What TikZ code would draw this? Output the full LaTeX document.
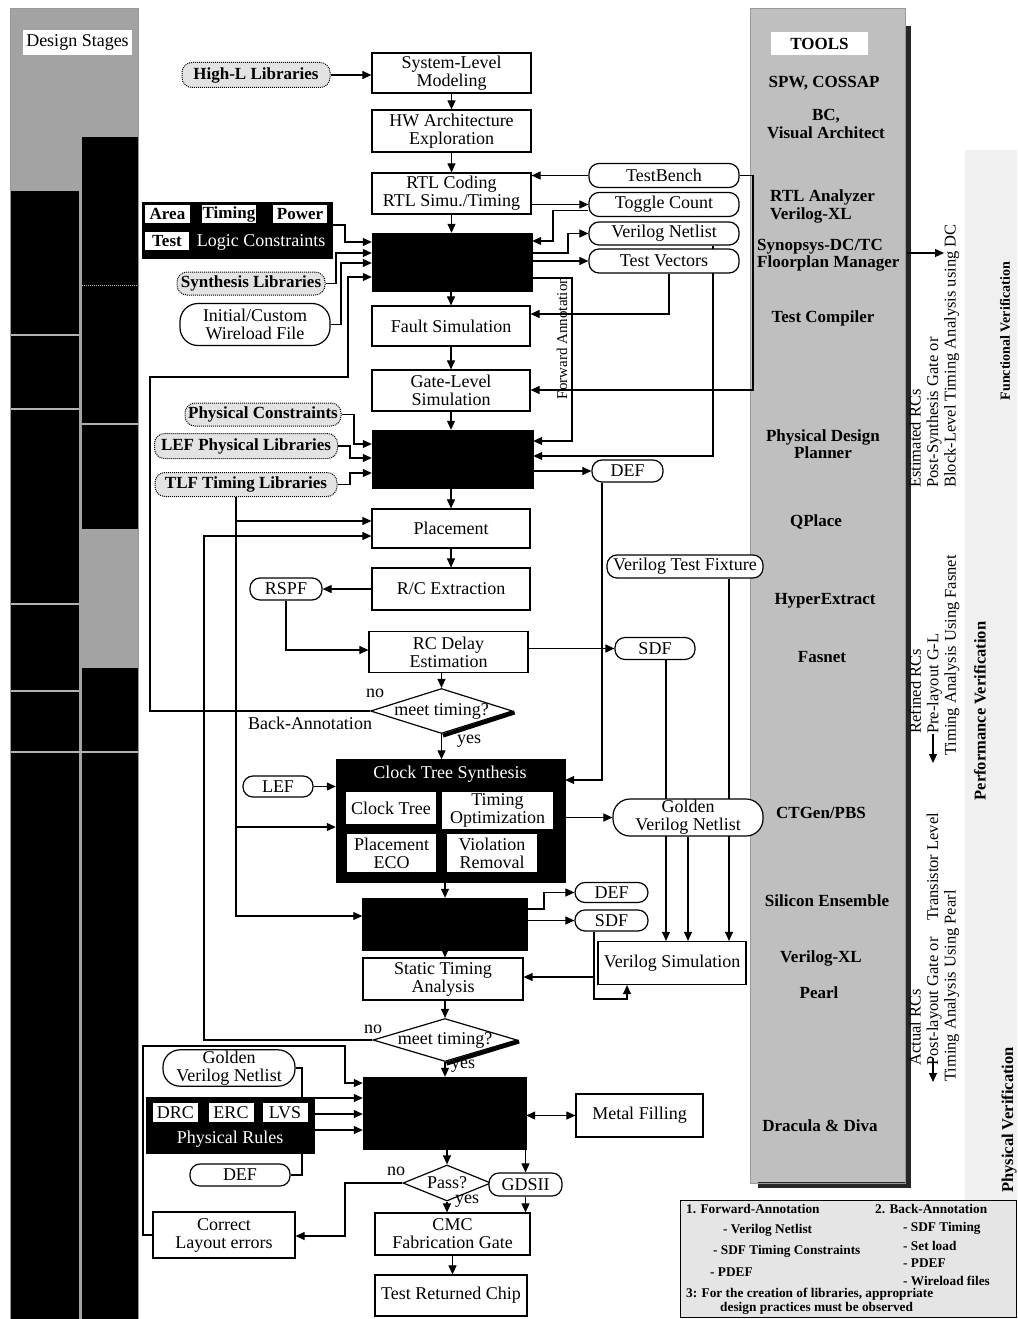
\documentclass[tikz,border=0pt]{standalone}
\usepackage{fontspec}
\setmainfont{Liberation Serif}
\usetikzlibrary{shapes.geometric,arrows.meta}
\pgfdeclarelayer{bg}
\pgfdeclarelayer{lines}
\pgfsetlayers{bg,lines,main}
\begin{document}
\begin{tikzpicture}[x=1pt,y=-1pt,
  txt/.style={font=\fontsize{18}{18}\selectfont},
  btxt/.style={font=\bfseries\fontsize{17}{17.5}\selectfont},
  box/.style={draw,line width=1.2pt,fill=white,align=center,inner sep=1pt,txt},
  blk/.style={draw,fill=black,inner sep=0pt},
  rnd/.style={draw,line width=1.2pt,rounded corners=10pt,fill=white,align=center,inner sep=1pt,txt},
  lib/.style={draw,densely dotted,line width=1pt,rounded corners=10pt,fill=gray!22,align=center,inner sep=1pt,btxt},
  wb/.style={fill=white,inner sep=1pt,align=center,txt},
  wt/.style={text=white,inner sep=0pt,txt},
  dia/.style={draw,line width=1.2pt,diamond,inner sep=0pt,fill=white},
  arr/.style={line width=1.1pt,-{Triangle[length=9pt,width=8pt]}},
  darr/.style={line width=1.1pt,{Triangle[length=9pt,width=8pt]}-{Triangle[length=9pt,width=8pt]}},
  tool/.style={btxt,align=center,inner sep=0pt},
  side/.style={rotate=90,align=left,anchor=north west,inner sep=0pt,font=\fontsize{16.5}{17.5}\selectfont},
  vside/.style={rotate=90,inner sep=0pt,font=\bfseries\fontsize{14}{15}\selectfont},
  leg/.style={font=\bfseries\fontsize{13.3}{14}\selectfont,anchor=west,inner sep=0pt},
  lab/.style={txt,inner sep=0pt},
]
\useasboundingbox (0,0) rectangle (1017,1319);
\begin{pgfonlayer}{bg}
  \fill[white] (0,0) rectangle (1017,1319);
  % design stages column
  \fill[gray!72] (10,9) rectangle (138,1319);
  \fill[black] (10,191) rectangle (79,1319);
  \fill[black] (82,137) rectangle (138,529);
  \fill[black] (82,668) rectangle (138,1319);
  \draw[gray!60,line width=1.5pt] (10,335) -- (79,335) (10,409) -- (79,409)
     (10,604) -- (79,604) (10,691) -- (79,691) (10,752) -- (138,752) (82,424) -- (138,424);
  \draw[gray!55,densely dotted,line width=1pt] (82,285) -- (138,285);
  \draw[gray!80,line width=1pt] (10,9) rectangle (138,1319);
  % right light band
  \fill[gray!12] (965,150) rectangle (1017,1200);
  % tools column
  \fill[gray!50] (750,8) rectangle (905,1183);
  \fill[black!85] (905,26) rectangle (911,1188);
  \fill[black!85] (758,1182) rectangle (911,1188);
  \draw[gray!80,line width=0.8pt] (750,8) rectangle (905,1183);
\end{pgfonlayer}

% ---------- labels of columns ----------
\node[wb,minimum width=109pt,minimum height=25pt] (ds) at (77.5,42.5) {Design Stages};
\node[wb,btxt,minimum width=97pt,minimum height=23pt] (tools) at (819.5,43.5) {TOOLS};
\node[tool] (t1) at (824,83) {SPW, COSSAP};
\node[tool] (t2) at (826,124) {BC,\\Visual Architect};
\node[tool,align=left,anchor=west] (t3) at (770,206.5) {RTL Analyzer\\Verilog-XL};
\node[tool,align=left,anchor=west] (t4) at (757,255) {Synopsys-DC/TC\\Floorplan Manager};
\node[tool] (t5) at (823,318) {Test Compiler};
\node[tool] (t6) at (823,444) {Physical Design\\Planner};
\node[tool] (t7) at (816,522) {QPlace};
\node[tool] (t8) at (825,601) {HyperExtract};
\node[tool] (t9) at (822,657) {Fasnet};
\node[tool] (t10) at (821,813) {CTGen/PBS};
\node[tool] (t11) at (827,901) {Silicon Ensemble};
\node[tool] (t12) at (821,958) {Verilog-XL};
\node[tool] (t13) at (819,993) {Pearl};
\node[tool] (t14) at (820,1126) {Dracula \& Diva};

% ---------- left inputs ----------
\node[lib,minimum width=148pt,minimum height=25pt] (hl) at (256,75) {High-L Libraries};
\node[blk,minimum width=190pt,minimum height=56pt] (lc) at (237,230) {};
\node[wb,btxt,minimum width=45pt,minimum height=18pt] (area) at (167.5,214) {Area};
\node[wb,btxt,minimum width=52pt,minimum height=18pt] (timing) at (229,214) {Timing};
\node[wb,btxt,minimum width=54pt,minimum height=18pt] (power) at (300,214) {Power};
\node[wb,btxt,minimum width=44pt,minimum height=18pt] (test) at (167,241) {Test};
\node[wt] (lct) at (261,242) {Logic Constraints};
\node[lib,minimum width=148pt,minimum height=23pt] (syn) at (251,283.5) {Synthesis Libraries};
\node[rnd,rounded corners=18pt,minimum width=150pt,minimum height=42pt] (wire) at (255,324.5) {Initial/Custom\\Wireload File};
\node[lib,minimum width=156pt,minimum height=23pt] (pc) at (263,414.5) {Physical Constraints};
\node[lib,minimum width=183pt,minimum height=25pt] (lefl) at (246,446) {LEF Physical Libraries};
\node[lib,minimum width=182pt,minimum height=24pt] (tlf) at (246,484.5) {TLF Timing Libraries};
\node[rnd,minimum width=72pt,minimum height=22pt] (rspf) at (286,589) {RSPF};
\node[rnd,minimum width=70pt,minimum height=21pt] (lef) at (278,786.5) {LEF};
\node[rnd,rounded corners=17pt,minimum width=132pt,minimum height=36pt] (gvn2) at (229,1068) {Golden\\Verilog Netlist};
\node[blk,minimum width=168pt,minimum height=56pt] (pr) at (230,1125) {};
\node[wb,minimum width=45pt,minimum height=19pt] (drc) at (175.5,1112.5) {DRC};
\node[wb,minimum width=45pt,minimum height=19pt] (erc) at (231,1112.5) {ERC};
\node[wb,minimum width=45pt,minimum height=19pt] (lvs) at (285,1112.5) {LVS};
\node[wt] (prt) at (230,1139) {Physical Rules};
\node[rnd,minimum width=100pt,minimum height=22pt] (def3) at (240,1175) {DEF};
\node[box,minimum width=142pt,minimum height=46pt] (cle) at (224,1235) {Correct\\Layout errors};

% ---------- center flow ----------
\node[box,minimum width=159pt,minimum height=40pt] (sys) at (451.5,73) {System-Level\\Modeling};
\node[box,minimum width=159pt,minimum height=42pt] (hw) at (451.5,131) {HW Architecture\\Exploration};
\node[box,minimum width=159pt,minimum height=41pt] (rtl) at (451.5,193.5) {RTL Coding\\RTL Simu./Timing};
\node[blk,minimum width=160pt,minimum height=58pt] (bb1) at (452,262) {};
\node[box,minimum width=158pt,minimum height=40pt] (fault) at (451,326) {Fault Simulation};
\node[box,minimum width=158pt,minimum height=41pt] (gate) at (451,390.5) {Gate-Level\\Simulation};
\node[blk,minimum width=161pt,minimum height=58pt] (bb2) at (452.5,459) {};
\node[box,minimum width=158pt,minimum height=39pt] (place) at (451,528.5) {Placement};
\node[box,minimum width=158pt,minimum height=42pt] (rcx) at (451,589) {R/C Extraction};
\node[box,minimum width=159pt,minimum height=41pt] (rcd) at (448.5,652) {RC Delay\\Estimation};
\node[dia,minimum width=142pt,minimum height=45pt] (d1) at (441.5,711) {};
\node[lab] (d1t) at (d1) {meet timing?};
\node[blk,minimum width=229pt,minimum height=123pt] (cts) at (450.5,821) {};
\node[wt] (ctst) at (450,774) {Clock Tree Synthesis};
\node[wb,minimum width=90pt,minimum height=32pt] (ct) at (391,808) {Clock Tree};
\node[wb,minimum width=111pt,minimum height=37pt] (to) at (497.5,810) {Timing\\Optimization};
\node[wb,minimum width=89pt,minimum height=38pt] (peco) at (391.5,853) {Placement\\ECO};
\node[wb,minimum width=90pt,minimum height=38pt] (vr) at (492,853) {Violation\\Removal};
\node[blk,minimum width=165pt,minimum height=52pt] (bb3) at (445,924) {};
\node[box,minimum width=160pt,minimum height=42pt] (sta) at (443,979) {Static Timing\\Analysis};
\node[dia,minimum width=144pt,minimum height=43pt] (d2) at (445,1040) {};
\node[lab] (d2t) at (d2) {meet timing?};
\node[blk,minimum width=163pt,minimum height=72pt] (bb4) at (444.5,1113) {};
\node[box,minimum width=127pt,minimum height=43pt] (metal) at (639.5,1115.5) {Metal Filling};
\node[dia,minimum width=88pt,minimum height=36pt] (d3) at (447,1183) {};
\node[lab] (d3t) at (d3) {Pass?};
\node[rnd,minimum width=73pt,minimum height=23pt] (gds) at (525.5,1184.5) {GDSII};
\node[box,minimum width=155pt,minimum height=42pt] (cmc) at (452.5,1234) {CMC\\Fabrication Gate};
\node[box,minimum width=152pt,minimum height=41pt] (trc) at (451,1295.5) {Test Returned Chip};

% diamond shadows
\draw[line width=4pt] ([shift={(1.5pt,-1.5pt)}]d1.south) -- ([shift={(1.5pt,-1.5pt)}]d1.east);
\draw[line width=4pt] ([shift={(1.5pt,-1.5pt)}]d2.south) -- ([shift={(1.5pt,-1.5pt)}]d2.east);

% ---------- right of flow ----------
\node[rnd,minimum width=150pt,minimum height=24pt] (tb) at (664,175.5) {TestBench};
\node[rnd,minimum width=150pt,minimum height=24pt] (tc) at (664,204.5) {Toggle Count};
\node[rnd,minimum width=150pt,minimum height=23pt] (vn) at (664,233.5) {Verilog Netlist};
\node[rnd,minimum width=150pt,minimum height=24pt] (tv) at (664,261) {Test Vectors};
\node[rnd,minimum width=71pt,minimum height=22pt] (def1) at (627.5,471) {DEF};
\node[rnd,minimum width=156pt,minimum height=23pt] (vtf) at (685,566.5) {Verilog Test Fixture};
\node[rnd,minimum width=80pt,minimum height=22pt] (sdf1) at (655,648.5) {SDF};
\node[rnd,rounded corners=17pt,minimum width=150pt,minimum height=37pt] (gvn) at (688,817.5) {Golden\\Verilog Netlist};
\node[rnd,minimum width=73pt,minimum height=20pt] (def2) at (611.5,892.5) {DEF};
\node[rnd,minimum width=73pt,minimum height=21pt] (sdf2) at (611.5,920.5) {SDF};
\node[box,minimum width=148pt,minimum height=43pt] (vsim) at (672,963) {Verilog Simulation};

% ---------- small labels ----------
\node[lab] (no1) at (375,693) {no};
\node[lab] (ba) at (310,723) {Back-Annotation};
\node[lab] (yes1) at (469,741) {yes};
\node[lab] (no2) at (373,1029) {no};
\node[lab] (yes2) at (463,1066) {yes};
\node[lab] (no3) at (396,1171) {no};
\node[lab] (yes3) at (467,1201) {yes};
\node[lab,rotate=90,font=\fontsize{15}{15}\selectfont] (fa) at (562,338) {Forward Annotation};

% ---------- side texts ----------
\node[side] (est) at (909,488) {Estimated RCs\\Post-Synthesis Gate or\\Block-Level Timing Analysis using DC};
\coordinate (ea1) at (907,253);
\coordinate (ea2) at (944,253);
\draw[arr] (ea1) -- (ea2);
\node[vside] (fv) at (1005,331) {Functional Verification};
\node[side] (ref) at (909,762) {\hspace*{28pt}Refined RCs\\\hspace*{28pt}Pre-layout G-L\\\hspace*{6pt}Timing Analysis Using Fasnet};
\coordinate (ra1) at (933,734);
\coordinate (ra2) at (933,763);
\draw[arr] (ra1) -- (ra2);
\node[vside,font=\bfseries\fontsize{16.5}{16.5}\selectfont] (pv) at (980,711) {Performance Verification};
\node[side] (act) at (909,1082) {\hspace*{16pt}Actual RCs\\\hspace*{16pt}Post-layout Gate or\quad Transistor Level\\Timing Analysis Using Pearl};
\coordinate (aa1) at (933,1058);
\coordinate (aa2) at (933,1082);
\draw[arr] (aa1) -- (aa2);
\node[vside,font=\bfseries\fontsize{16.5}{16.5}\selectfont] (phv) at (1009,1120) {Physical Verification};

% ---------- legend ----------
\node[draw,fill=gray!20,line width=0.8pt,minimum width=336pt,minimum height=117pt,inner sep=0pt] (legend) at (848,1258.5) {};
\node[leg] (l1) at (686,1209) {1. Forward-Annotation};
\node[leg] (l2) at (875,1209) {2. Back-Annotation};
\node[leg] (l3) at (723,1230) {- Verilog Netlist};
\node[leg] (l4) at (713,1251) {- SDF Timing Constraints};
\node[leg] (l5) at (710,1272) {- PDEF};
\node[leg] (l6) at (903,1228) {- SDF Timing};
\node[leg] (l7) at (903,1246) {- Set load};
\node[leg] (l8) at (903,1263) {- PDEF};
\node[leg] (l9) at (903,1281) {- Wireload files};
\node[leg] (l10) at (686,1294) {3: For the creation of libraries, appropriate};
\node[leg] (l11) at (720,1308) {design practices must be observed};

% ---------- connectors ----------
\begin{pgfonlayer}{lines}
\draw[arr] (hl.east) -- (hl.east -| sys.west);
\draw[arr] (sys.south) -- (sys.south |- hw.north);
\draw[arr] (hw.south) -- (hw.south |- rtl.north);
\draw[arr] (rtl.south) -- (rtl.south |- bb1.north);
\draw[arr] (fault.north |- bb1.south) -- (fault.north);
\draw[arr] (fault.south) -- (fault.south |- gate.north);
\draw[arr] (gate.south) -- (gate.south |- bb2.north);
\draw[arr] (place.north |- bb2.south) -- (place.north);
\draw[arr] (place.south) -- (place.south |- rcx.north);
\draw[arr] (d1.north |- rcd.south) -- (d1.north);
\draw[arr] (d1.south) -- (d1.south |- cts.north);
\draw[arr] (bb3.north |- cts.south) -- (bb3.north);
\draw[arr] (bb3.south) -- (bb3.south |- sta.north);
\draw[arr] (d2.north |- sta.south) -- (d2.north);
\draw[arr] (d2.south) -- (d2.south |- bb4.north);
\draw[arr] (d3.north |- bb4.south) -- (d3.north);
\draw[arr] (gds.north |- bb4.south) -- (gds.north);
\draw[arr] (d3.south) -- (d3.south |- cmc.north);
\draw[arr] (gds.south) -- (gds.south |- cmc.north);
\draw[arr] (cmc.south) -- (cmc.south |- trc.north);
% top right
\draw[arr] (tb.west) -- (tb.west -| rtl.east);
\draw[arr] (rtl.east |- tc.west) -- (tc.west);
\draw[arr] ([yshift=-6pt]tc.west) -| (553,241) -- (bb1.east |- 0,241);
\draw[arr] (bb1.east |- 0,253) -| (568,233.5) -- (vn.west);
\draw[arr] (bb1.east |- tv.west) -- (tv.west);
\draw[arr] (bb1.east |- 0,278) -| (572,441) -- (bb2.east |- 0,441);
\draw[arr] (tv.south -| 669,0) |- (fault.east |- 0,314);
\draw[arr] (vn.south -| 713,0) |- (bb2.east |- 0,456);
\draw[arr] (tb.east) -| (753,390) -- (gate.east |- 0,390);
% inputs to bb1
\draw[arr] (lc.east |- 0,225) -| (345,242) -- (bb1.west |- 0,242);
\draw[arr] (syn.east) -| (336,253) -- (bb1.west |- 0,253);
\draw[arr] (wire.east) -| (341,263) -- (bb1.west |- 0,263);
\draw[arr] (d1.west) -| (150,377) -| (348,277) -- (bb1.west |- 0,277);
% inputs to bb2
\draw[arr] (pc.east) -| (354,444) -- (bb2.west |- 0,444);
\draw[arr] (lefl.east) -| (350,458) -- (bb2.west |- 0,458);
\draw[arr] (tlf.east) -| (350,473) -- (bb2.west |- 0,473);
\draw[arr] (bb2.east |- def1.west) -- (def1.west);
% TLF trunk
\draw[arr] (tlf.south -| 236,0) |- (place.west |- 0,521);
\draw[arr] (tlf.south -| 236,0) |- (cts.west |- 0,827);
\draw[arr] (tlf.south -| 236,0) |- (bb3.west |- 0,916);
\draw[arr] (d2.west) -| (204,536) -- (place.west |- 0,536);
% extraction
\draw[arr] (rcx.west) -- (rcx.west -| rspf.east);
\draw[arr] (rspf.south) |- (rcd.west |- 0,650);
\draw[arr] (rcd.east |- sdf1.west) -- (sdf1.west);
% CTS
\draw[arr] (def1.south -| 602,0) |- (cts.east |- 0,780);
\draw[arr] (lef.east) -- (lef.east -| cts.west);
\draw[arr] (cts.east |- gvn.west) -- (gvn.west);
% bb3 outputs
\draw[arr] (bb3.east |- 0,909) -| (544,892.5) -- (def2.west);
\draw[arr] (bb3.east |- sdf2.west) -- (sdf2.west);
\draw[arr] (sdf2.south -| 594,0) |- (sta.east |- 0,977);
\draw[arr] (sdf2.south -| 594,0) |- (627,999) -- (vsim.south -| 627,0);
\draw[arr] (sdf1.south -| 666,0) -- (vsim.north -| 666,0);
\draw[arr] (gvn.south) -- (gvn.south |- vsim.north);
\draw[arr] (vtf.south -| 729,0) -- (vsim.north -| 729,0);
% bb4 inputs
\draw[arr] (cle.west) -| (143,1046) -| (345,1083) -- (bb4.west |- 0,1083);
\draw[arr] (gvn2.east) -| (302,1098) -- (bb4.west |- 0,1098);
\draw[arr] (pr.east |- 0,1114) -- (bb4.west |- 0,1114);
\draw[arr] (def3.east) -| (302,1130) -- (bb4.west |- 0,1130);
\draw[darr] (bb4.east |- metal.west) -- (metal.west);
\draw[arr] (d3.west) -| (345,1236) -- (cle.east |- 0,1236);
\end{pgfonlayer}
\end{tikzpicture}
\end{document}
